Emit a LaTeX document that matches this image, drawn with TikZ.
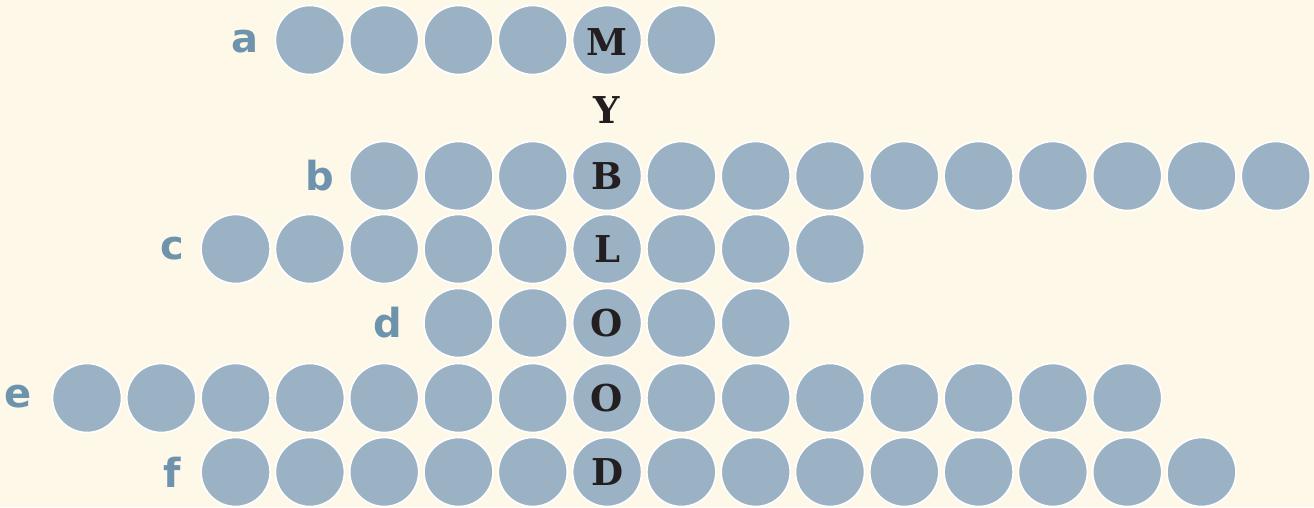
\documentclass[tikz,border=0pt]{standalone}
\usepackage{fontspec}
\newfontfamily\slabfont{DejaVu Serif}
\newfontfamily\labfont{DejaVu Sans}
\definecolor{bg}{HTML}{FEF8E9}
\definecolor{disc}{HTML}{9BB2C5}
\definecolor{lab}{HTML}{6E93AC}
\definecolor{ink}{HTML}{231F20}
\tikzset{
  cell/.style={circle, fill=disc, draw=white, line width=1.6pt, minimum size=69pt, inner sep=0pt},
  rowlabel/.style={text=lab, font=\labfont\bfseries\fontsize{40}{40}\selectfont, inner sep=0pt},
  key/.style={text=ink, font=\slabfont\bfseries\fontsize{37}{37}\selectfont, inner sep=0pt}
}
\begin{document}
\begin{tikzpicture}[x=1pt,y=-1pt]
\fill[bg] (0,0) rectangle (1314,507);
\useasboundingbox (0,0) rectangle (1314,507);
% rows: name / y / first col / last col
\foreach \r/\yy/\f/\l in {a/40/3/8, b/176/4/16, c/249/2/10, d/323/5/9, e/398/0/14, f/472/2/15}{
  \foreach \i in {\f,...,\l}{
    \node[cell] (\r\i) at ({87+74.3*\i},\yy) {};
  }
}
% letters of the key word in column 7
\node[key] (kM) at ([yshift=-2pt]a7) {M};
\node[key] (kY) at ({87+74.3*7},110) {Y};
\node[key] (kB) at (b7) {B};
\node[key] (kL) at (c7) {L};
\node[key] (kO1) at (d7) {O};
\node[key] (kO2) at (e7) {O};
\node[key] (kD) at (f7) {D};
% row labels
\node[rowlabel] (la) at (245,42) {a};
\node[rowlabel] (lb) at (320,176) {b};
\node[rowlabel] (lc) at (172,249) {c};
\node[rowlabel] (ld) at (388,323) {d};
\node[rowlabel] (le) at (18,397) {e};
\node[rowlabel] (lf) at (172,472) {f};
\end{tikzpicture}
\end{document}
